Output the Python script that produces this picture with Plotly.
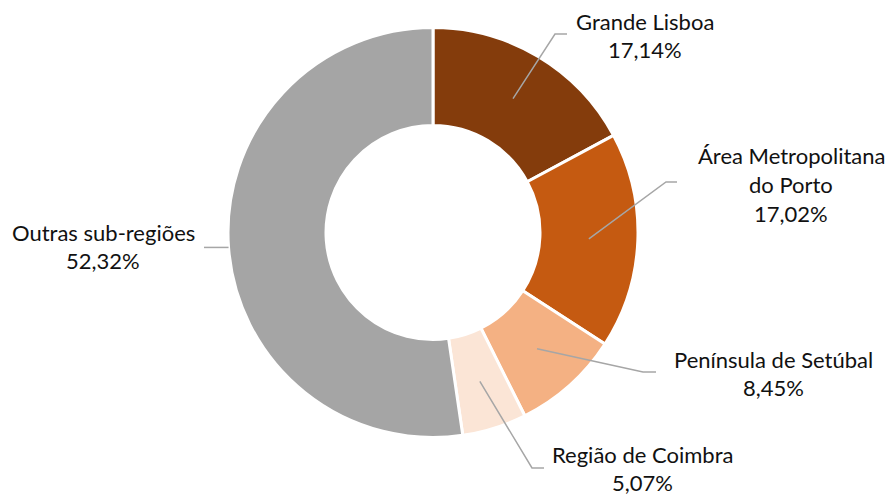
import math
import plotly.graph_objects as go

# ---- data ----
regions = ["Grande Lisboa", "Área Metropolitana do Porto", "Península de Setúbal",
           "Região de Coimbra", "Outras sub-regiões"]
label_lines = [["Grande Lisboa"], ["Área Metropolitana", "do Porto"], ["Península de Setúbal"],
               ["Região de Coimbra"], ["Outras sub-regiões"]]
shares = [17.14, 17.02, 8.45, 5.07, 52.32]
colors = ["#843C0C", "#C55A11", "#F4B183", "#FBE5D6", "#A5A5A5"]

W, H = 892, 496
# donut geometry (pixels)
CX, CY, R, RIN = 433, 232.5, 205, 107

# label layout (pixels): text centre x, first-line centre y, leader elbow, leader end, leader start radius
label_pos = [
    dict(x=645, y=21, elbow=(555, 34), end=(567, 34), rr=156),
    dict(x=791, y=156, elbow=(666, 182), end=(677, 182), rr=156),
    dict(x=773, y=359, elbow=(643, 372), end=(656, 372), rr=156),
    dict(x=642, y=454, elbow=(532, 468), end=(544, 468), rr=156),
    dict(x=103, y=232, elbow=None, end=(204, None), rr=R),
]
LINE_GAP = 28.5

def px(x):
    return x / W

def py(y):
    return 1 - y / H

fig = go.Figure(go.Pie(
    labels=regions, values=shares, sort=False, direction="clockwise", rotation=0,
    hole=RIN / R, marker=dict(colors=colors, line=dict(color="white", width=3)),
    textinfo="none", hoverinfo="label+percent", showlegend=False,
    domain=dict(x=[px(CX - R), px(CX + R)], y=[py(CY + R), py(CY - R)]),
))

annotations = []
shapes = []
total = sum(shares)
cum = 0.0
for i, v in enumerate(shares):
    mid = (cum + v / 2) / total
    cum += v
    a = 2 * math.pi * mid
    lp = label_pos[i]
    sx = CX + lp["rr"] * math.sin(a)
    sy = CY - lp["rr"] * math.cos(a)
    pct = f"{v:.2f}%".replace(".", ",")
    lines = label_lines[i] + [pct]
    for k, t in enumerate(lines):
        annotations.append(dict(
            text=t, x=px(lp["x"]), y=py(lp["y"] + k * LINE_GAP), xref="paper", yref="paper",
            xanchor="center", yanchor="middle", showarrow=False,
            font=dict(family="Lato", size=22, color="#111111")))
    pts = [(sx, sy)]
    if lp["elbow"] is not None:
        pts.append(lp["elbow"])
        pts.append(lp["end"])
    else:
        pts.append((lp["end"][0], sy))
    path = "M " + " L ".join(f"{px(x)},{py(y)}" for x, y in pts)
    shapes.append(dict(type="path", path=path, xref="paper", yref="paper",
                       line=dict(color="#A6A6A6", width=1.5)))

fig.update_layout(
    width=W, height=H, margin=dict(l=0, r=0, t=0, b=0),
    paper_bgcolor="white", plot_bgcolor="white",
    annotations=annotations, shapes=shapes,
)

fig.write_html("out.html", config={"displayModeBar": False},
               post_script="document.body.style.margin='0';")
